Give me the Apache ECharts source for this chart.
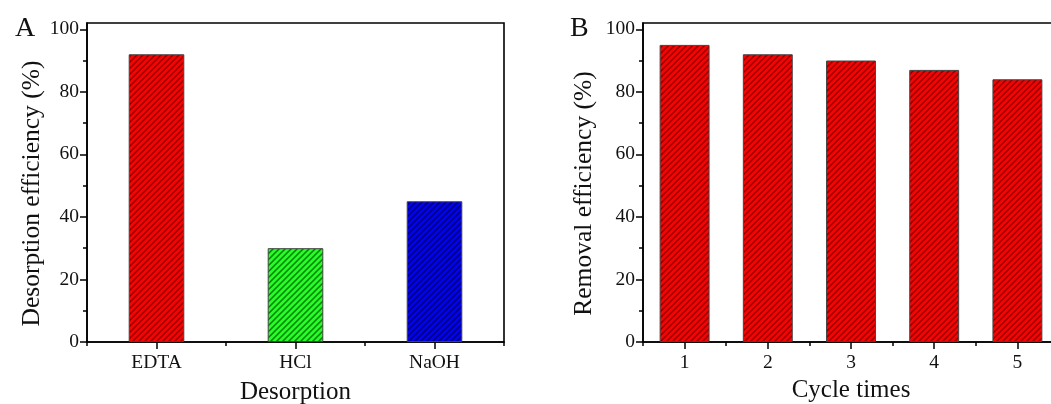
<!DOCTYPE html>
<html>
<head>
<meta charset="utf-8">
<script src="https://cdn.jsdelivr.net/npm/echarts@6/dist/echarts.min.js"></script>
<style>
  html, body { margin: 0; padding: 0; background: #fff; }
  #main { width: 1051px; height: 404px; }
</style>
</head>
<body>
<div id="main"></div>
<script>
const desorbNames = ['EDTA', 'HCl', 'NaOH'];
const desorbValues = [92, 30, 45];
const cycleNames = ['1', '2', '3', '4', '5'];
const cycleValues = [95, 92, 90, 87, 84];
const yMajor = [0, 20, 40, 60, 80, 100];
const yMinor = [10, 30, 50, 70, 90];

const FONT = 'Liberation Serif';
const chart = echarts.init(document.getElementById('main'));

// diagonal hatch fill, like the origin-style bars
function hatch(bg, fg) {
  const s = 6;
  const c = document.createElement('canvas');
  c.width = s;
  c.height = s;
  const g = c.getContext('2d');
  g.fillStyle = bg;
  g.fillRect(0, 0, s, s);
  g.strokeStyle = fg;
  g.lineWidth = 1.5;
  g.beginPath();
  g.moveTo(0, s); g.lineTo(s, 0);
  g.moveTo(-2, 2); g.lineTo(2, -2);
  g.moveTo(s - 2, s + 2); g.lineTo(s + 2, s - 2);
  g.stroke();
  return { image: c, repeat: 'repeat' };
}

const redFill = hatch('#ff0000', '#8a0000');
const desorbFills = [redFill, hatch('#22ff22', '#0a7a0a'), hatch('#0000ff', '#00005a')];

const axisLine = { show: true, onZero: false, lineStyle: { color: '#000', width: 1.6 } };
const tickLabel = { fontFamily: FONT, fontSize: 19.5, color: '#111' };

function yAxes(gridIndex, name, nameGap) {
  return [
    {
      type: 'value', gridIndex, position: 'left', min: 0, max: 102,
      name, nameLocation: 'middle', nameGap,
      nameTextStyle: { fontFamily: FONT, fontSize: 25.5, color: '#111', padding: [0, 22, 0, 0] },
      axisLine,
      axisTick: { show: true, length: 7, customValues: yMajor, lineStyle: { color: '#000', width: 1.5 } },
      axisLabel: { ...tickLabel, margin: 8, customValues: yMajor },
      splitLine: { show: false },
    },
    {
      type: 'value', gridIndex, position: 'left', min: 0, max: 102,
      axisLine: { show: false },
      axisTick: { show: true, length: 4, customValues: yMinor, lineStyle: { color: '#000', width: 1.5 } },
      axisLabel: { show: false },
      splitLine: { show: false },
    },
  ];
}

function xAxes(gridIndex, cats, name, nameGap) {
  return [
    {
      type: 'category', gridIndex, data: cats,
      name, nameLocation: 'middle', nameGap,
      nameTextStyle: { fontFamily: FONT, fontSize: 25, color: '#111' },
      axisLine,
      axisTick: { show: true, alignWithLabel: true, length: 7, lineStyle: { color: '#000', width: 1.5 } },
      axisLabel: { ...tickLabel, margin: 11 },
    },
    {
      type: 'category', gridIndex, data: cats, position: 'bottom',
      axisLine: { show: false },
      axisTick: { show: true, length: 4, lineStyle: { color: '#000', width: 1.5 } },
      axisLabel: { show: false },
    },
  ];
}

const option = {
  backgroundColor: '#fff',
  animation: false,
  title: [
    { text: 'A', left: 10, top: 10, textStyle: { fontFamily: FONT, fontSize: 28, fontWeight: 'normal', color: '#111' } },
    { text: 'B', left: 565, top: 10, textStyle: { fontFamily: FONT, fontSize: 28, fontWeight: 'normal', color: '#111' } },
  ],
  grid: [
    { left: 87, top: 23, width: 417, height: 319, outerBoundsMode: 'none', containLabel: false,
      show: true, borderColor: '#000', borderWidth: 1.6 },
    { left: 643, top: 23, width: 416, height: 319, outerBoundsMode: 'none', containLabel: false,
      show: true, borderColor: '#000', borderWidth: 1.6 },
  ],
  xAxis: [...xAxes(0, desorbNames, 'Desorption', 38), ...xAxes(1, cycleNames, 'Cycle times', 30)],
  yAxis: [
    ...yAxes(0, 'Desorption efficiency (%)', 42),
    ...yAxes(1, 'Removal efficiency (%)', 46),
  ],
  series: [
    {
      type: 'bar', xAxisIndex: 0, yAxisIndex: 0, barWidth: '40%',
      data: desorbValues.map((v, i) => ({ value: v, itemStyle: { color: desorbFills[i] } })),
      itemStyle: { borderColor: '#444', borderWidth: 1 },
    },
    {
      type: 'bar', xAxisIndex: 2, yAxisIndex: 2, barWidth: '60%',
      data: cycleValues,
      itemStyle: { color: redFill, borderColor: '#444', borderWidth: 1 },
    },
  ],
};

chart.setOption(option);
</script>
</body>
</html>
